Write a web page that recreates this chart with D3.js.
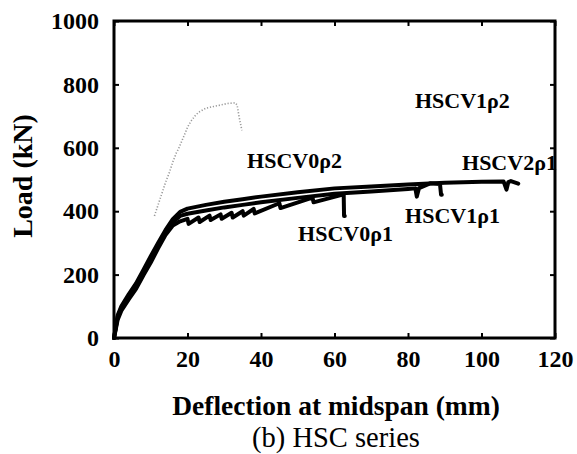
<!DOCTYPE html>
<html><head><meta charset="utf-8">
<script src="https://cdn.jsdelivr.net/npm/d3@7"></script>
<style>
html,body{margin:0;padding:0;background:#fff;}
svg{display:block;}
text{font-family:"Liberation Serif","Times New Roman",serif;fill:#000;}
</style></head>
<body>
<svg id="chart" width="577" height="454"></svg>
<script>
// ---- data ----
const xTicks = [0, 20, 40, 60, 80, 100, 120];
const yTicks = [0, 200, 400, 600, 800, 1000];

const v2r1X = [0, 1, 2, 4, 6, 8, 10, 12, 14, 16, 18, 20, 25, 30, 35, 40, 50, 60, 70, 80, 90, 100, 106, 106.8, 107.3, 108, 110];
const v2r1Y = [0, 72, 100, 138, 172, 215, 258, 300, 340, 375, 398, 408, 420, 430, 438, 446, 460, 472, 478, 484, 490, 493, 494, 468, 492, 495, 487];

const v1r1X = [0, 1, 2, 4, 6, 8, 10, 12, 14, 16, 18, 20, 25, 30, 35, 40, 50, 60, 70, 80, 82, 82.4, 83, 86, 88.7, 89, 89.2];
const v1r1Y = [0, 66, 95, 132, 166, 210, 250, 295, 335, 365, 385, 392, 402, 412, 420, 428, 442, 455, 462, 470, 472, 446, 473, 488, 486, 452, 452];

const v0r1X = [0, 1, 2, 4, 6, 8, 10, 12, 14, 16, 18, 20, 20.3, 23, 23.3, 26, 26.3, 29, 29.3, 32, 32.3, 35, 35.3, 38, 38.3, 45, 45.3, 54, 54.3, 62.5, 62.6, 62.8];
const v0r1Y = [0, 58, 86, 122, 155, 198, 238, 283, 325, 355, 368, 376, 360, 380, 366, 386, 372, 390, 376, 395, 380, 400, 386, 407, 393, 425, 410, 443, 428, 453, 385, 385];

const v0r2X = [11, 12, 13, 14, 15, 16, 17, 17.5, 19.5, 20, 21, 22, 23, 25, 27, 29, 31, 33, 33.5, 34, 34.8];
const v0r2Y = [385, 420, 455, 490, 520, 555, 585, 595, 650, 665, 685, 700, 712, 725, 730, 735, 740, 742, 735, 700, 655];

const seriesNames = ["HSCV0ρ2", "HSCV1ρ2", "HSCV2ρ1", "HSCV1ρ1", "HSCV0ρ1"];
const labelX = [36.2, 81.9, 94.7, 79.2, 50.1];
const labelY = [562, 751, 555, 388, 330];

// ---- chart ----
const svg = d3.select("#chart");
const x = d3.scaleLinear().domain([0, 120]).range([114, 555]);
const y = d3.scaleLinear().domain([0, 1000]).range([338, 21]);

const line = d3.line().x(d => x(d[0])).y(d => y(d[1]));
const zip = (a, b) => a.map((v, i) => [v, b[i]]);

// gray dotted
svg.append("path").datum(zip(v0r2X, v0r2Y))
  .attr("d", line).attr("fill", "none")
  .attr("stroke", "#9a9a9a").attr("stroke-width", 1.6)
  .attr("stroke-dasharray", "1.2,1.8");

[[v0r1X, v0r1Y], [v1r1X, v1r1Y], [v2r1X, v2r1Y]].forEach(([xs, ys]) => {
  svg.append("path").datum(zip(xs, ys))
    .attr("d", line).attr("fill", "none")
    .attr("stroke", "#000").attr("stroke-width", 4)
    .attr("stroke-linejoin", "round").attr("stroke-linecap", "round");
});

// axes with inward ticks
const axB = d3.axisBottom(x).tickValues(xTicks).tickSize(-5).tickPadding(12).tickFormat(d3.format("d"));
const axT = d3.axisTop(x).tickValues(xTicks).tickSize(-5).tickFormat("");
const axL = d3.axisLeft(y).tickValues(yTicks).tickSize(-5).tickPadding(15).tickFormat(d3.format("d"));
const axR = d3.axisRight(y).tickValues(yTicks).tickSize(-5).tickFormat("");

function style(g) {
  g.select(".domain").remove();
  g.selectAll(".tick line").attr("stroke", "#000").attr("stroke-width", 2);
  g.selectAll(".tick text").attr("font-family", "Liberation Serif, serif")
    .attr("font-weight", "bold").attr("font-size", 24).attr("fill", "#000");
}
svg.append("g").attr("transform", "translate(0,338)").call(axB).call(style);
svg.append("g").attr("transform", "translate(0,21)").call(axT).call(style);
svg.append("g").attr("transform", "translate(114,0)").call(axL).call(style);
svg.append("g").attr("transform", "translate(555,0)").call(axR).call(style);

// frame
svg.append("rect").attr("x", 114).attr("y", 21).attr("width", 441).attr("height", 317)
  .attr("fill", "none").attr("stroke", "#000").attr("stroke-width", 3);

// curve labels
seriesNames.forEach((n, i) => {
  svg.append("text").attr("x", x(labelX[i])).attr("y", y(labelY[i]))
    .attr("font-size", 22).attr("font-weight", "bold").attr("dy", "0.35em")
    .text(n);
});

// axis titles
svg.append("text").attr("x", 336).attr("y", 415).attr("text-anchor", "middle")
  .attr("font-size", 27.5).attr("font-weight", "bold").text("Deflection at midspan (mm)");
svg.append("text").attr("x", 336).attr("y", 447).attr("text-anchor", "middle")
  .attr("font-size", 28.5).text("(b) HSC series");
svg.append("text").attr("transform", "translate(32,176) rotate(-90)").attr("text-anchor", "middle")
  .attr("font-size", 28).attr("font-weight", "bold").text("Load (kN)");
</script>
</body></html>
